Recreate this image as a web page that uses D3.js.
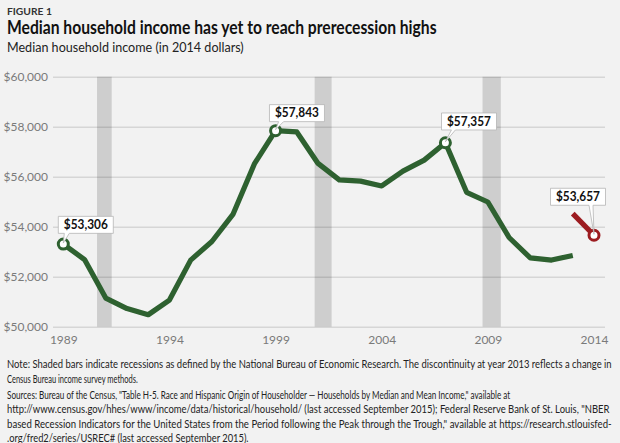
<!DOCTYPE html>
<html><head><meta charset="utf-8">
<script src="https://cdn.jsdelivr.net/npm/d3@7"></script>
<style>
html,body{margin:0;padding:0;background:#f2f2f2;}
svg{display:block;font-family:Lato,"Open Sans",sans-serif;}
</style></head>
<body>
<svg id="chart" width="620" height="443"></svg>
<script>
// ---- data ----
const years = [1989,1990,1991,1992,1993,1994,1995,1996,1997,1998,1999,2000,2001,2002,2003,2004,2005,2006,2007,2008,2009,2010,2011,2012,2013];
const income = [53306,52684,51145,50725,50478,51065,52664,53407,54506,56510,57843,57790,56531,55871,55823,55629,56224,56663,57357,55376,54988,53568,52751,52666,52850];
const newYears = [2013,2014];
const newIncome = [54525,53657];
const recessionStart = [1990.59,2000.84,2008.75];
const recessionEnd = [1991.28,2001.64,2009.61];
const xTicks = [1989,1994,1999,2004,2009,2014];
const yTicks = [50000,52000,54000,56000,58000,60000];
const labelYears = [1989,1999,2007,2014];
const labelValues = [53306,57843,57357,53657];
const labelSeries = ["old","old","old","new"];

// ---- layout ----
const svg = d3.select("#chart");
const x = d3.scaleLinear().domain([1989,2014]).range([63.3,594]);
const y = d3.scaleLinear().domain([50000,60000]).range([326.7,76.7]);
const green = "#2e6130", red = "#9c1c20";

// place a text at (x0, y0) and squeeze it horizontally to a target width
function fitText(g, x0, y0, width, str, attrs) {
  const t = g.append("text").attr("x",0).attr("y",0).text(str);
  Object.entries(attrs).forEach(([k,v])=>t.attr(k,v));
  const nat = t.node().getComputedTextLength();
  const sx = width / nat;
  t.attr("transform",`translate(${x0},${y0}) scale(${sx},1)`);
  return t;
}

// header
fitText(svg, 7, 14.5, 45, "FIGURE 1", {"font-size":10,"font-weight":700,"fill":"#333"});
fitText(svg, 7, 34, 430, "Median household income has yet to reach prerecession highs",
  {"font-size":18,"font-weight":700,"fill":"#111"});
fitText(svg, 7, 52, 237, "Median household income (in 2014 dollars)",
  {"font-size":13.5,"fill":"#222"});

// gridlines
const gridG = svg.append("g").attr("transform","translate(605,0)")
  .call(d3.axisLeft(y).tickValues(yTicks).tickSize(552).tickFormat(""));
gridG.select(".domain").remove();
gridG.selectAll(".tick line").attr("stroke","#d6d6d6").attr("stroke-width",1.6);

// recession bars
svg.append("g").selectAll("rect").data(recessionStart).join("rect")
  .attr("x",(d)=>x(d)).attr("width",(d,i)=>x(recessionEnd[i])-x(d))
  .attr("y",y(60000)).attr("height",y(50000)-y(60000))
  .attr("fill","#000").attr("fill-opacity",0.15);

// y labels
const yAx = svg.append("g").attr("transform","translate(48,0)")
  .call(d3.axisLeft(y).tickValues(yTicks).tickSize(0).tickPadding(0).tickFormat(d=>"$"+d3.format(",")(d)));
yAx.select(".domain").remove();
yAx.selectAll("text").attr("font-size",12).attr("fill","#7a7a7a").attr("font-family","Lato, sans-serif");

// x labels
const xAx = svg.append("g").attr("transform","translate(0,335)")
  .call(d3.axisBottom(x).tickValues(xTicks).tickSize(0).tickPadding(0).tickFormat(d3.format("d")));
xAx.select(".domain").remove();
xAx.selectAll("text").attr("font-size",12).attr("fill","#7a7a7a").attr("font-family","Lato, sans-serif");

// lines
const line = d3.line().x(d=>x(d[0])).y(d=>y(d[1]));
svg.append("path").datum(years.map((d,i)=>[d,income[i]])).attr("d",line)
  .attr("fill","none").attr("stroke",green).attr("stroke-width",5.2).attr("stroke-linejoin","round");
svg.append("path").datum(newYears.map((d,i)=>[d,newIncome[i]])).attr("d",line)
  .attr("fill","none").attr("stroke",red).attr("stroke-width",5.2);

// markers
svg.append("g").selectAll("circle").data(labelYears).join("circle")
  .attr("cx",d=>x(d)).attr("cy",(d,i)=>y(labelValues[i])).attr("r",5)
  .attr("fill","#fff").attr("stroke",(d,i)=>labelSeries[i]==="new"?red:green).attr("stroke-width",3);

// callouts
const calloutCfg = [
  {dx:22.5, dy:-10.7, b0:1, b1:6},
  {dx:21.4, dy:-9, b0:3, b1:8},
  {dx:23.6, dy:-12.8, b0:6, b1:10},
  {dx:-16, dy:-30, b0:-5, b1:-1}
];
const fmt = d => "$"+d3.format(",")(d);
labelYears.forEach((yr,i)=>{
  const px = x(yr), py = y(labelValues[i]);
  const c = calloutCfg[i];
  const w = 55, h = 17;
  const cx = px + c.dx, bottom = py + c.dy, top = bottom - h;
  const x0 = cx - w/2, x1 = cx + w/2;
  const p = `M${x0},${top}H${x1}V${bottom}H${px+c.b1}L${px},${py-1}L${px+c.b0},${bottom}H${x0}Z`;
  svg.append("path").attr("d",p).attr("fill","#fff").attr("stroke","#b5b5b5").attr("stroke-width",0.8);
  fitText(svg, cx-22, bottom-4.3, 44, fmt(labelValues[i]),
    {"font-size":13,"font-weight":700,"fill":"#111"});
});

// notes
const noteLines = [
  "Note: Shaded bars indicate recessions as defined by the National Bureau of Economic Research. The discontinuity at year 2013 reflects a change in",
  "Census Bureau income survey methods.",
  "Sources: Bureau of the Census, \"Table H-5. Race and Hispanic Origin of Householder \u2014 Households by Median and Mean Income,\" available at",
  "http://www.census.gov/hhes/www/income/data/historical/household/ (last accessed September 2015); Federal Reserve Bank of St. Louis, \"NBER",
  "based Recession Indicators for the United States from the Period following the Peak through the Trough,\" available at https://research.stlouisfed-",
  ".org/fred2/series/USREC# (last accessed September 2015)."
];
const noteY = [368,382.5,398.5,413,427.5,441.5];
const noteW = [605,131,504,603,605,242];
const noteG = svg.append("g");
noteLines.forEach((s,i)=>fitText(noteG, 7, noteY[i], noteW[i], s, {"font-size":11,"fill":"#222"}));
</script>
</body></html>
